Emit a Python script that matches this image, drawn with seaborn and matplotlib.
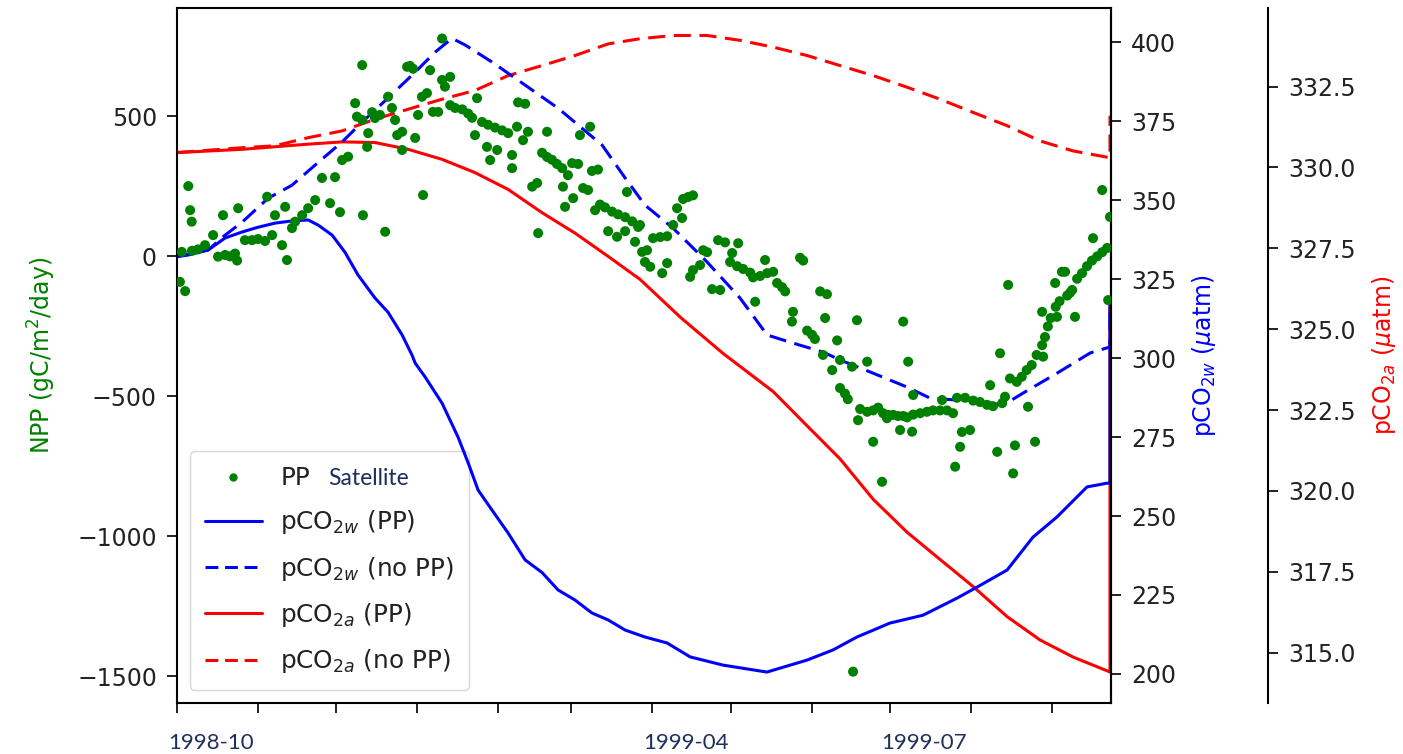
import numpy as np
import pandas as pd
import matplotlib
matplotlib.use("Agg")
import matplotlib.pyplot as plt
import matplotlib.dates as mdates
import matplotlib.transforms as mtransforms
from matplotlib.lines import Line2D
from matplotlib.ticker import MultipleLocator, NullFormatter
import seaborn as sns

# ---------------- data (day offsets from START) ----------------
START = "1998-10-01"
X_END_DAY = 357.7

pco2w_pp_day = [0, 4.2, 11.9, 18.4, 24.9, 31.0, 37.5, 44.0, 50.2, 54.0, 59.4, 64.3, 69.3, 75.8,
                80.8, 86.2, 90.0, 91.2, 95.0, 101.5, 107.6, 111.5, 115.3, 120.6, 126.8, 133.3,
                139.8, 145.9, 152.4, 158.9, 165.1, 171.6, 179.2, 187.7, 196.5, 209.1, 225.9,
                241.3, 251.2, 260.4, 273.0, 285.7, 298.7, 306.4, 317.9, 327.8, 337.0, 348.5,
                356.2, 357.3, 357.3]
pco2w_pp_val = [332.1, 332.6, 334.2, 338.0, 339.9, 341.4, 342.7, 343.4, 343.7, 342.1, 338.9, 333.5,
                326.3, 319.0, 314.5, 307.3, 300.9, 298.4, 294.0, 285.7, 275.0, 266.8, 258.2, 251.9,
                244.6, 236.1, 232.1, 226.6, 223.4, 219.3, 217.1, 213.9, 211.7, 209.8, 205.4, 202.8,
                200.6, 204.4, 207.6, 211.7, 216.1, 218.6, 224.0, 227.5, 232.9, 243.3, 249.7, 259.2,
                260.4, 260.4, 318.3]

pco2w_nopp_day = [0, 11.9, 18.4, 24.9, 34.9, 44.0, 52.9, 63.2, 70.9, 80.8, 91.2, 98.8, 105.3, 110.3,
                  120.6, 133.3, 145.9, 162.8, 171.6, 179.2, 190.0, 203.0, 215.6, 226.0, 234.8,
                  247.4, 253.9, 266.6, 279.6, 288.4, 298.7, 304.9, 316.4, 324.0, 337.0, 349.7,
                  357.3, 357.3]
pco2w_nopp_val = [332.1, 334.2, 338.9, 343.0, 350.6, 354.7, 361.1, 368.4, 374.7, 382.3, 390.5, 396.8,
                  401.2, 399.1, 393.7, 386.4, 379.1, 367.4, 357.0, 348.4, 341.1, 330.4, 319.0, 307.3,
                  305.0, 301.9, 299.4, 295.2, 290.8, 287.3, 286.7, 286.7, 285.1, 288.9, 295.2, 301.6,
                  303.5, 318.3]

pco2a_pp_day = [0, 24.9, 50.2, 63.2, 75.8, 88.5, 101.5, 114.1, 126.8, 139.8, 152.4, 165.1, 177.3,
                193.0, 209.1, 228.3, 241.3, 253.9, 266.6, 279.6, 292.2, 304.9, 317.9, 330.5, 343.2,
                357.3, 357.3]
pco2a_pp_val = [330.46, 330.56, 330.72, 330.79, 330.77, 330.56, 330.25, 329.84, 329.32, 328.60,
                327.97, 327.25, 326.54, 325.35, 324.25, 323.07, 322.01, 320.99, 319.74, 318.72,
                317.88, 317.04, 316.11, 315.39, 314.86, 314.40, 325.95]

pco2a_nopp_day = [0, 24.9, 37.5, 50.2, 63.2, 75.8, 88.5, 101.5, 114.1, 126.8, 139.8, 152.4, 165.1,
                  177.3, 190.0, 203.0, 215.6, 228.3, 241.3, 253.9, 266.6, 279.6, 292.2, 304.9,
                  317.9, 330.5, 343.2, 357.3, 357.3]
pco2a_nopp_val = [330.46, 330.61, 330.67, 330.92, 331.13, 331.49, 331.80, 332.11, 332.38, 332.84,
                  333.15, 333.46, 333.82, 333.98, 334.08, 334.08, 333.93, 333.72, 333.46, 333.15,
                  332.84, 332.48, 332.11, 331.70, 331.29, 330.82, 330.51, 330.30, 331.60]

npp_day = [1.1, 3.1, 1.8, 4.3, 5.0, 5.6, 5.7, 8.0, 10.7, 13.8, 15.7, 17.6, 18.4, 20.3, 22.2, 23.0,
           23.4, 26.0, 28.7, 31.0, 33.7, 34.5, 36.4, 37.5, 40.2, 41.4, 42.1, 44.0, 45.2, 47.9,
           50.2, 52.9, 55.5, 58.6, 60.5, 62.4, 63.2, 65.5, 68.2, 68.9, 70.9, 70.9, 71.2, 72.8,
           73.2, 74.7, 75.8, 77.7, 79.7, 80.8, 82.3, 83.5, 84.3, 86.2, 86.2, 88.1, 89.2, 90.4,
           91.2, 92.3, 93.8, 94.2, 95.7, 96.9, 98.0, 100.0, 101.5, 101.5, 102.6, 104.6, 104.6,
           106.5, 109.2, 111.5, 113.0, 114.1, 114.9, 116.8, 119.1, 121.8, 124.5, 126.8, 118.7,
           119.9, 122.6, 128.3, 128.3, 130.6, 133.3, 130.2, 132.5, 134.4, 136.0, 137.9, 138.3,
           139.8, 141.7, 143.6, 145.5, 147.5, 141.7, 147.8, 148.6, 149.7, 151.7, 151.3, 153.6,
           154.3, 155.5, 158.2, 158.9, 161.2, 157.4, 160.1, 162.0, 163.9, 166.6, 168.9, 171.6,
           174.3, 176.6, 165.1, 168.5, 171.6, 172.3, 175.4, 178.1, 179.2, 177.3, 180.0, 182.3,
           185.0, 187.7, 181.2, 185.8, 187.7, 190.0, 191.5, 193.4, 193.8, 195.7, 197.6, 196.5,
           197.6, 200.3, 201.5, 203.0, 204.9, 208.0, 207.2, 209.9, 211.8, 214.5, 216.8, 219.5,
           214.9, 212.6, 220.6, 223.3, 226.0, 228.3, 221.4, 225.2, 229.8, 231.7, 232.9, 235.9,
           235.5, 238.6, 239.8, 241.3, 243.2, 244.3, 246.3, 248.9, 248.2, 252.8, 260.4, 278.1,
           247.4, 250.9, 253.9, 258.5, 264.3, 280.0, 253.9, 255.8, 256.9, 261.6, 264.3, 266.6,
           268.5, 270.4, 272.3, 274.2, 276.1, 278.1, 279.6, 260.8, 266.6, 270.0, 271.9, 276.9,
           281.5, 281.9, 284.6, 287.2, 289.5, 292.2, 294.9, 297.2, 281.9, 293.0, 298.0, 299.9,
           300.6, 303.7, 298.7, 301.8, 304.9, 307.5, 310.2, 312.5, 311.4, 314.1, 315.2, 316.0,
           317.1, 319.0, 321.6, 323.5, 325.4, 327.3, 329.2, 331.7, 320.2, 320.9, 325.9, 328.6,
           258.9, 318.3, 331.3, 332.4, 331.3, 337.0, 336.3, 338.9, 340.1, 340.9, 342.0, 342.8,
           343.9, 344.7, 346.6, 348.5, 350.4, 352.4, 354.3, 356.2, 350.8, 354.3, 357.3, 356.6,
           333.5, 334.6, 336.5, 338.0]
npp_val = [-91, -124, 16, 251, 165, 124, 20, 25, 40, 76, -1, 147, 5, 0, 10, -15,
           172, 58, 58, 62, 55, 213, 76, 147, 40, 177, -13, 101, 124, 147,
           172, 201, 280, 190, 283, 158, 344, 356, 547, 499, 683, 487, 147, 391,
           440, 515, 494, 505, 88, 570, 530, 487, 433, 445, 380, 677, 680, 670,
           423, 505, 570, 219, 583, 665, 516, 516, 778, 630, 606, 641, 540,
           530, 525, 510, 495, 433, 565, 480, 470, 460, 450, 440, 391,
           344, 380, 362, 315, 550, 545, 463, 415, 445, 249, 262, 83,
           370, 355, 345, 330, 315, 445, 249, 177, 290, 208, 333, 330,
           433, 244, 463, 305, 310, 237, 165, 185, 175, 160, 150, 140,
           125, 105, 90, 70, 90, 230, 52, 16, -20, 112, 22, 65,
           69, 72, -37, -60, -24, 112, 172, 137, 205, 212, 218, -73,
           -49, -31, 22, 15, -117, -120, 58, 50, -20, -35, -45, -58,
           47, 12, -75, -70, -60, -55, -162, -13, -95, -110, -125, -198,
           -233, -5, -15, -265, -280, -295, -125, -135, -220, -300, -228, -233,
           -352, -406, -370, -394, -376, -376, -470, -490, -510, -545, -555, -550,
           -540, -560, -566, -566, -570, -570, -575, -585, -662, -805, -578, -620,
           -626, -565, -560, -555, -550, -550, -550, -560, -495, -513, -751, -680,
           -627, -620, -505, -505, -515, -520, -530, -535, -460, -698, -346, -524,
           -501, -436, -448, -430, -406, -388, -352, -358, -775, -675, -537, -662,
           -1483, -102, -198, -288, -317, -216, -95, -55, -55, -140, -130, -120,
           -216, -80, -60, -35, -15, 0, 15, 30, 65, 237, 141, -156,
           -250, -220, -180, -160]

xtick_labels = ["1998-10", "1999-04", "1999-07"]
legend_labels = ["PP", r"pCO$_{2w}$ (PP)", r"pCO$_{2w}$ (no PP)",
                 r"pCO$_{2a}$ (PP)", r"pCO$_{2a}$ (no PP)"]
legend_extra = "Satellite"

# ---------------- style ----------------
sns.set_theme(style="ticks")
plt.rcParams.update({
    "font.family": ["DejaVu Sans"],
    "mathtext.fontset": "dejavusans",
    "font.size": 17,
    "axes.linewidth": 1.5,
    "axes.edgecolor": "black",
    "xtick.major.size": 7, "ytick.major.size": 7,
    "xtick.major.width": 1.4, "ytick.major.width": 1.4,
    "xtick.major.pad": 7.5, "ytick.major.pad": 7.5,
    "xtick.color": "#222222", "ytick.color": "#222222",
    "xtick.labelsize": 17, "ytick.labelsize": 17,
    "text.color": "#222222", "axes.labelcolor": "#222222",
})

t0 = pd.Timestamp(START)


def to_dates(days):
    return t0 + pd.to_timedelta(np.asarray(days, dtype=float), unit="D")


fig = plt.figure(figsize=(14.03, 7.54), dpi=100)
ax = fig.add_axes([0.1262, 0.0676, 0.6657, 0.9218])
ax2 = ax.twinx()
ax3 = ax.twinx()
ax3.spines["right"].set_position(("axes", 1.168))

for a in (ax2, ax3):
    for s in ("left", "top", "bottom"):
        a.spines[s].set_visible(False)

ax3.set_zorder(1)
ax2.set_zorder(2)
ax.set_zorder(3)
ax.patch.set_visible(False)
ax2.patch.set_visible(False)
ax3.patch.set_facecolor("white")

LW = 2.2
DASH = (5.6, 2.8)

# pCO2w
sns.lineplot(x=to_dates(pco2w_pp_day), y=pco2w_pp_val, ax=ax2, color="blue", lw=LW,
             estimator=None, sort=False)
sns.lineplot(x=to_dates(pco2w_nopp_day), y=pco2w_nopp_val, ax=ax2, color="blue", lw=LW,
             estimator=None, sort=False)
ax2.lines[-1].set_dashes(DASH)
# pCO2a
sns.lineplot(x=to_dates(pco2a_pp_day), y=pco2a_pp_val, ax=ax3, color="red", lw=LW,
             estimator=None, sort=False)
sns.lineplot(x=to_dates(pco2a_nopp_day), y=pco2a_nopp_val, ax=ax3, color="red", lw=LW,
             estimator=None, sort=False)
ax3.lines[-1].set_dashes(DASH)
# NPP satellite
sns.scatterplot(x=to_dates(npp_day), y=npp_val, ax=ax, color="green", s=52,
                edgecolor="none", linewidth=0, zorder=3)

# limits
ax.set_xlim(t0, t0 + pd.Timedelta(days=X_END_DAY))
ax.set_ylim(-1595, 887)
ax2.set_ylim(190.8, 410.8)
ax3.set_ylim(313.44, 334.93)

ax.yaxis.set_major_locator(MultipleLocator(500))
ax2.yaxis.set_major_locator(MultipleLocator(25))
ax3.yaxis.set_major_locator(MultipleLocator(2.5))

ax.xaxis.set_major_locator(mdates.MonthLocator())
ax.xaxis.set_major_formatter(NullFormatter())
ax.tick_params(axis="x", which="both", top=False)
ax.tick_params(axis="y", right=False)

for lbl in xtick_labels:
    ax.annotate(lbl, xy=(pd.Timestamp(lbl + "-01"), 0), xycoords=("data", "axes fraction"),
                xytext=(-6.5, -21.5), textcoords="offset points", ha="left", va="top",
                fontsize=16, family=["Lato", "DejaVu Sans"], color="#1f2f5c",
                annotation_clip=False)

ax.set_xlabel("")
ax.set_ylabel("NPP (gC/m$^2$/day)", color="green", fontsize=17, labelpad=14)
ax2.set_ylabel(r"pCO$_{2w}$ ($\mu$atm)", color="blue", fontsize=17, labelpad=10)
ax3.set_ylabel(r"pCO$_{2a}$ ($\mu$atm)", color="red", fontsize=17, labelpad=10)

# legend (on lowest axes so the pCO2w line passes over it)
handles = [
    Line2D([], [], ls="none", marker="o", color="green", markersize=6, markeredgewidth=0),
    Line2D([], [], color="blue", lw=LW),
    Line2D([], [], color="blue", lw=LW, dashes=(4.2, 2.2)),
    Line2D([], [], color="red", lw=LW),
    Line2D([], [], color="red", lw=LW, dashes=(4.2, 2.2)),
]
leg = ax3.legend(handles, legend_labels, loc="lower left", fontsize=17.8,
                 borderaxespad=0.52, handlelength=2.3, handletextpad=0.75,
                 labelspacing=0.74, borderpad=0.6, frameon=True, fancybox=True,
                 framealpha=0.8, edgecolor="#cccccc")
leg.get_frame().set_linewidth(1.0)

fig.canvas.draw()
bb = leg.get_texts()[0].get_window_extent()
fig.text(bb.x1 + 18, bb.y0 + 1, legend_extra, transform=mtransforms.IdentityTransform(),
         ha="left", va="bottom", fontsize=16.5, family=["Lato", "DejaVu Sans"],
         color="#1f2f5c", zorder=10)

fig.savefig("out.png", dpi=100, facecolor="white")
